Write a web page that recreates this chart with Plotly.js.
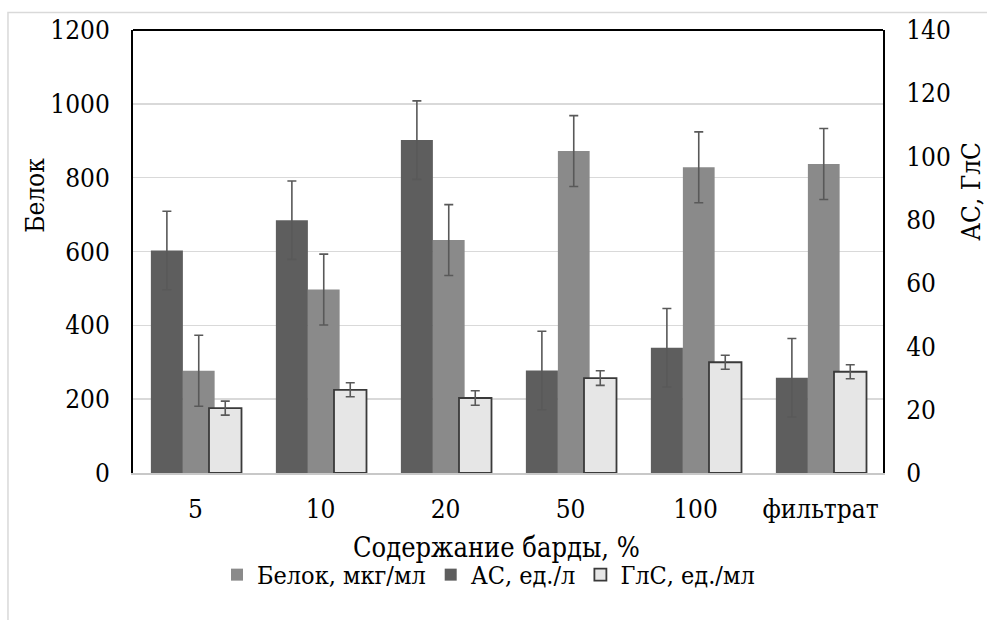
<!DOCTYPE html>
<html>
<head>
<meta charset="utf-8">
<script src="https://cdn.plot.ly/plotly-3.0.1.min.js"></script>
<style>
  html, body { margin: 0; padding: 0; background: #fff; }
  #chart { width: 987px; height: 620px; }
</style>
</head>
<body>
<div id="chart"></div>
<script>
// Categories: stillage content in the medium
var categories = ['5', '10', '20', '50', '100', 'фильтрат'];

// Protein, µg/ml (left axis)
var protein = [277, 497, 631, 872, 828, 837];
var proteinErr = [96, 96, 96, 96, 96, 96];

// Amylolytic activity, U/l (right axis)
var amylase = [70.3, 79.9, 105.2, 32.4, 39.6, 30.1];
var amylaseErr = [12.4, 12.4, 12.4, 12.4, 12.4, 12.4];

// Glucoamylase activity, U/ml (right axis)
var glucoamylase = [20.5, 26.3, 23.7, 30.0, 35.0, 32.0];
var glucoamylaseErr = [2.2, 2.2, 2.3, 2.3, 2.2, 2.2];

var leftTicks = [0, 200, 400, 600, 800, 1000, 1200];
var rightTicks = [0, 20, 40, 60, 80, 100, 120, 140];

var FONT = 'DejaVu Serif Condensed, DejaVu Serif';
var TICK_SIZE = 26;
var errStyle = function (arr) {
  return { type: 'data', array: arr, visible: true, color: '#595959', thickness: 1.6, width: 4.5 };
};

var traces = [
  {
    type: 'bar', name: 'Белок, мкг/мл', x: categories, y: protein, yaxis: 'y',
    offset: -0.101, width: 0.254,
    marker: { color: '#8a8a8a', line: { width: 0 } },
    error_y: errStyle(proteinErr)
  },
  {
    type: 'bar', name: 'АС, ед./л', x: categories, y: amylase, yaxis: 'y2',
    offset: -0.357, width: 0.256,
    marker: { color: '#5e5e5e', line: { width: 0 } },
    error_y: errStyle(amylaseErr)
  },
  {
    type: 'bar', name: 'ГлС, ед./мл', x: categories, y: glucoamylase, yaxis: 'y2',
    offset: 0.108, width: 0.26,
    marker: { color: '#e6e6e6', line: { width: 1.8, color: '#3a3a3a' } },
    error_y: errStyle(glucoamylaseErr)
  }
];

var layout = {
  width: 987, height: 620,
  margin: { l: 133, r: 104, t: 30, b: 147, pad: 0 },
  paper_bgcolor: '#ffffff', plot_bgcolor: '#ffffff',
  font: { family: FONT, size: TICK_SIZE, color: '#000000' },
  barmode: 'overlay',
  showlegend: true,
  legend: {
    orientation: 'h', x: 0.474, xanchor: 'center', y: -0.23, yanchor: 'middle',
    font: { family: FONT, size: 25, color: '#000000' },
    traceorder: 'normal', itemwidth: 30, bgcolor: 'rgba(0,0,0,0)'
  },
  xaxis: {
    type: 'category', range: [-0.5, 5.5],
    showline: true, linecolor: '#c8c8c8', linewidth: 2,
    ticks: '', showgrid: false, zeroline: false,
    ticklabelstandoff: 12,
    tickfont: { family: FONT, size: TICK_SIZE, color: '#000000' }
  },
  yaxis: {
    range: [0, 1200], tickvals: leftTicks, ticktext: leftTicks.map(String),
    showline: true, linecolor: '#000000', linewidth: 2,
    showgrid: true, gridcolor: '#d9d9d9', gridwidth: 1.5,
    zeroline: false, ticks: '', ticklabelstandoff: 16,
    tickfont: { family: FONT, size: TICK_SIZE, color: '#000000' }
  },
  yaxis2: {
    overlaying: 'y', side: 'right',
    range: [0, 140], tickvals: rightTicks, ticktext: rightTicks.map(String),
    showline: true, linecolor: '#000000', linewidth: 2,
    showgrid: false, zeroline: false, ticks: '', ticklabelstandoff: 16,
    tickfont: { family: FONT, size: TICK_SIZE, color: '#000000' }
  },
  shapes: [
    // frame top edge
    { type: 'line', xref: 'paper', yref: 'paper', x0: 0, x1: 1, y0: 1, y1: 1,
      line: { color: '#000000', width: 2 } },
    // outer chart border
    { type: 'rect', xref: 'paper', yref: 'paper', x0: -0.1667, x1: 1.3, y0: -0.6, y1: 1.0395,
      line: { color: '#d9d9d9', width: 1.5 }, fillcolor: 'rgba(0,0,0,0)', layer: 'below' }
  ],
  annotations: [
    { text: 'Белок', xref: 'paper', yref: 'paper', x: -0.1307, y: 0.628,
      textangle: -90, showarrow: false, xanchor: 'center', yanchor: 'middle',
      font: { family: FONT, size: TICK_SIZE, color: '#000000' } },
    { text: 'АС, ГлС', xref: 'paper', yref: 'paper', x: 1.1173, y: 0.637,
      textangle: -90, showarrow: false, xanchor: 'center', yanchor: 'middle',
      font: { family: FONT, size: TICK_SIZE, color: '#000000' } },
    { text: 'Содержание барды, %', xref: 'paper', yref: 'paper', x: 0.484, y: -0.169,
      showarrow: false, xanchor: 'center', yanchor: 'middle',
      font: { family: FONT, size: 27, color: '#000000' } }
  ]
};

Plotly.newPlot('chart', traces, layout, { displayModeBar: false, staticPlot: true });
</script>
</body>
</html>
